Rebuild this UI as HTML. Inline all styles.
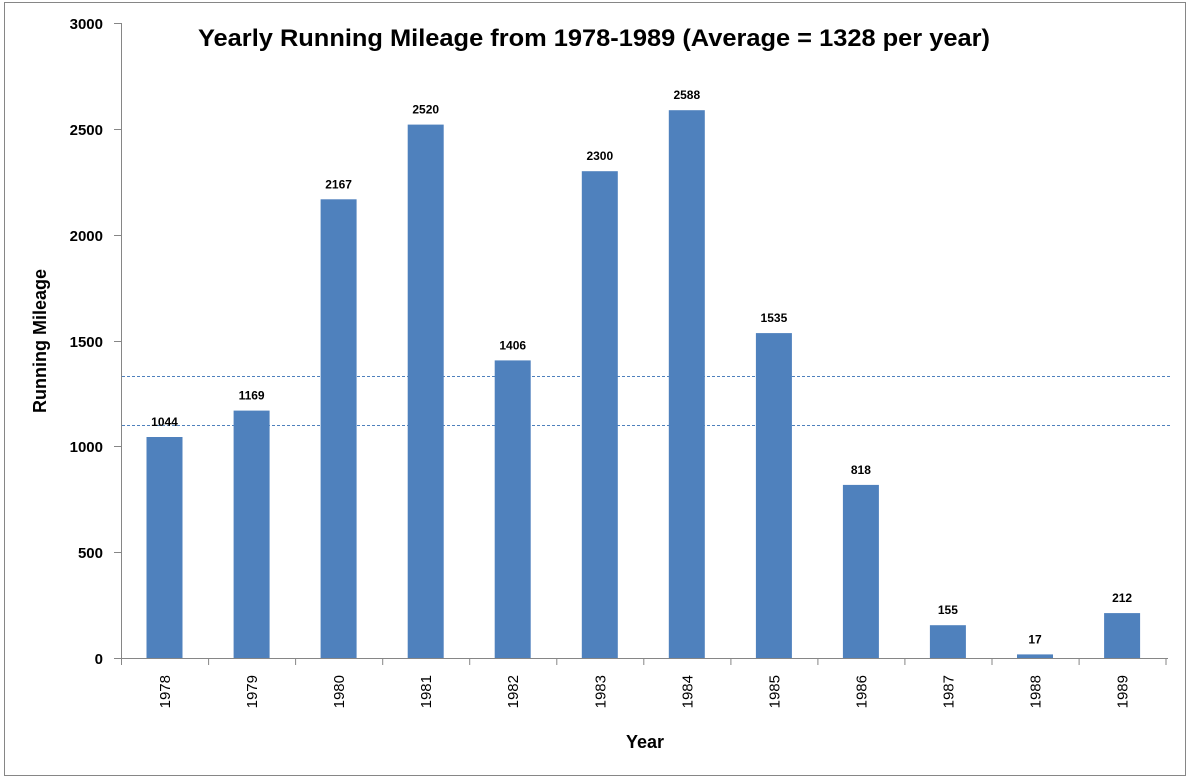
<!DOCTYPE html>
<html><head><style>body{margin:0;background:#fff}svg{display:block}text{font-family:"Liberation Sans",sans-serif}</style></head><body>
<svg width="1189" height="779" xmlns="http://www.w3.org/2000/svg">
<rect x="4.5" y="2.5" width="1181" height="773" fill="#fff" stroke="#868686"/>
<text x="198" y="46" font-size="24" font-weight="bold" textLength="792" lengthAdjust="spacingAndGlyphs">Yearly Running Mileage from 1978-1989 (Average = 1328 per year)</text>
<g stroke="#868686" stroke-width="1">
<line x1="121.5" y1="23" x2="121.5" y2="659"/>
<line x1="114" y1="658.5" x2="1168" y2="658.5"/>
<line x1="114" y1="23.5" x2="121" y2="23.5"/><line x1="114" y1="129.5" x2="121" y2="129.5"/><line x1="114" y1="235.5" x2="121" y2="235.5"/><line x1="114" y1="341.5" x2="121" y2="341.5"/><line x1="114" y1="446.5" x2="121" y2="446.5"/><line x1="114" y1="552.5" x2="121" y2="552.5"/>
<line x1="121.5" y1="658" x2="121.5" y2="665"/><line x1="208.6" y1="658" x2="208.6" y2="665"/><line x1="295.6" y1="658" x2="295.6" y2="665"/><line x1="382.7" y1="658" x2="382.7" y2="665"/><line x1="469.7" y1="658" x2="469.7" y2="665"/><line x1="556.8" y1="658" x2="556.8" y2="665"/><line x1="643.8" y1="658" x2="643.8" y2="665"/><line x1="730.9" y1="658" x2="730.9" y2="665"/><line x1="817.9" y1="658" x2="817.9" y2="665"/><line x1="904.9" y1="658" x2="904.9" y2="665"/><line x1="992" y1="658" x2="992" y2="665"/><line x1="1079.1" y1="658" x2="1079.1" y2="665"/><line x1="1166" y1="658" x2="1166" y2="665"/>
</g>
<g font-size="15" font-weight="bold" text-anchor="end">
<text x="103" y="29">3000</text><text x="103" y="135">2500</text><text x="103" y="241">2000</text><text x="103" y="347">1500</text><text x="103" y="452">1000</text><text x="103" y="558">500</text><text x="103" y="664">0</text>
</g>
<text transform="translate(46,341) rotate(-90)" font-size="18" font-weight="bold" text-anchor="middle">Running Mileage</text>
<text x="645" y="748" font-size="18" font-weight="bold" text-anchor="middle">Year</text>
<line x1="122" y1="376.5" x2="1170" y2="376.5" stroke="#4f81bd" stroke-dasharray="3,2"/>
<line x1="122" y1="425.5" x2="1170" y2="425.5" stroke="#4f81bd" stroke-dasharray="3,2"/>
<g fill="#4f81bd">
<rect x="146.5" y="437" width="36" height="221"/>
<rect x="233.6" y="410.6" width="36" height="247.4"/>
<rect x="320.6" y="199.3" width="36" height="458.7"/>
<rect x="407.7" y="124.6" width="36" height="533.4"/>
<rect x="494.7" y="360.4" width="36" height="297.6"/>
<rect x="581.8" y="171.2" width="36" height="486.8"/>
<rect x="668.8" y="110.2" width="36" height="547.8"/>
<rect x="755.9" y="333.1" width="36" height="324.9"/>
<rect x="842.9" y="484.9" width="36" height="173.1"/>
<rect x="929.9" y="625.2" width="36" height="32.8"/>
<rect x="1017" y="654.4" width="36" height="3.6"/>
<rect x="1104.1" y="613.1" width="36" height="44.9"/>
</g>
<g font-size="12" font-weight="bold" text-anchor="middle">
<text x="164.5" y="426">1044</text>
<text x="251.6" y="399.6">1169</text>
<text x="338.6" y="188.3">2167</text>
<text x="425.7" y="113.6">2520</text>
<text x="512.7" y="349.4">1406</text>
<text x="599.8" y="160.2">2300</text>
<text x="686.8" y="99.2">2588</text>
<text x="773.9" y="322.1">1535</text>
<text x="860.9" y="473.9">818</text>
<text x="947.9" y="614.2">155</text>
<text x="1035" y="643.4">17</text>
<text x="1122.1" y="602.1">212</text>
</g>
<g font-size="15">
<text transform="translate(170,675) rotate(-90)" text-anchor="end">1978</text>
<text transform="translate(257.1,675) rotate(-90)" text-anchor="end">1979</text>
<text transform="translate(344.1,675) rotate(-90)" text-anchor="end">1980</text>
<text transform="translate(431.2,675) rotate(-90)" text-anchor="end">1981</text>
<text transform="translate(518.2,675) rotate(-90)" text-anchor="end">1982</text>
<text transform="translate(605.3,675) rotate(-90)" text-anchor="end">1983</text>
<text transform="translate(692.3,675) rotate(-90)" text-anchor="end">1984</text>
<text transform="translate(779.4,675) rotate(-90)" text-anchor="end">1985</text>
<text transform="translate(866.4,675) rotate(-90)" text-anchor="end">1986</text>
<text transform="translate(953.4,675) rotate(-90)" text-anchor="end">1987</text>
<text transform="translate(1040.5,675) rotate(-90)" text-anchor="end">1988</text>
<text transform="translate(1127.6,675) rotate(-90)" text-anchor="end">1989</text>
</g>
</svg>
</body></html>
